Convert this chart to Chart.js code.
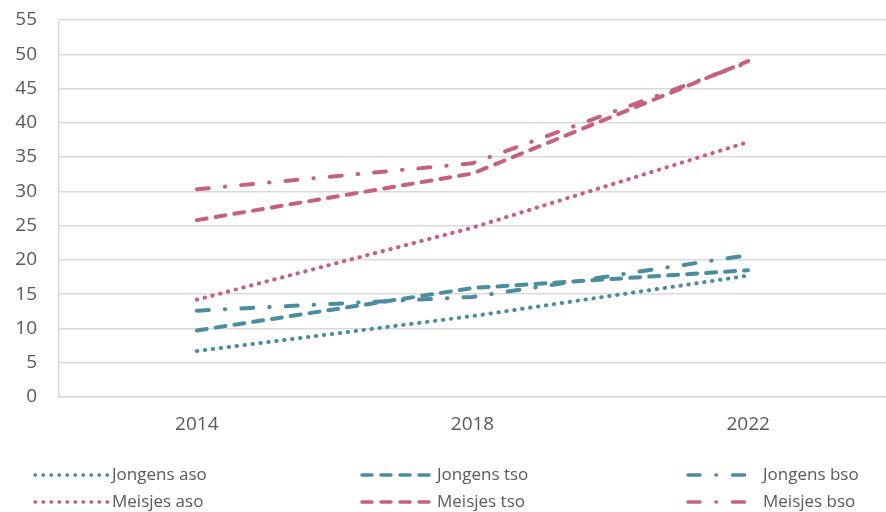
<!DOCTYPE html>
<html>
<head>
<meta charset="utf-8">
<script src="https://cdn.jsdelivr.net/npm/chart.js@4"></script>
<style>
    html, body { margin: 0; padding: 0; background: #fff; overflow: hidden; }
    #wrap { width: 886px; height: 512px; position: relative; }
</style>
</head>
<body>
<div id="wrap"><canvas id="chart" width="886" height="512"></canvas></div>
<script>
const years = ['2014', '2018', '2022'];
const jongensAso = [6.7, 11.8, 17.7];
const jongensTso = [9.7, 15.9, 18.5];
const jongensBso = [12.6, 14.6, 20.7];
const meisjesAso = [14.2, 24.7, 37.2];
const meisjesTso = [25.8, 32.6, 49.0];
const meisjesBso = [30.3, 34.1, 48.8];

const teal = '#4a8da1';
const pink = '#c7607a';
const dotted = [0.5, 7.5];
const dashed = [10, 9];
const dashDot = [12, 16, 0.5, 16];

function series(label, data, color, dash) {
    return {
        label: label,
        data: data,
        borderColor: color,
        backgroundColor: color,
        borderWidth: 4,
        borderDash: dash,
        borderCapStyle: 'round',
        pointRadius: 0,
        tension: 0,
        fill: false
    };
}

const datasets = [
    series('Jongens aso', jongensAso, teal, dotted),
    series('Jongens tso', jongensTso, teal, dashed),
    series('Jongens bso', jongensBso, teal, dashDot),
    series('Meisjes aso', meisjesAso, pink, dotted),
    series('Meisjes tso', meisjesTso, pink, dashed),
    series('Meisjes bso', meisjesBso, pink, dashDot)
];

// legend drawn by hand: 3 columns, 2 rows
const legendCols = [
    { x1: 35, x2: 110, tx: 112 },
    { x1: 362, x2: 435, tx: 437 },
    { x1: 688, x2: 745, tx: 763 }
];
const legendRows = [475, 502];

const legendPlugin = {
    id: 'gridLegend',
    afterDraw(chart) {
        const ctx = chart.ctx;
        chart.data.datasets.forEach((ds, i) => {
            const col = legendCols[i % 3];
            const y = legendRows[Math.floor(i / 3)];
            ctx.save();
            ctx.strokeStyle = ds.borderColor;
            ctx.lineWidth = 3.5;
            ctx.lineCap = 'round';
            ctx.setLineDash(ds.borderDash);
            ctx.beginPath();
            ctx.moveTo(col.x1, y);
            ctx.lineTo(col.x2, y);
            ctx.stroke();
            ctx.setLineDash([]);
            ctx.fillStyle = '#595959';
            ctx.font = '17px "Open Sans"';
            ctx.textBaseline = 'middle';
            ctx.fillText(ds.label, col.tx, y);
            ctx.restore();
        });
    }
};

new Chart(document.getElementById('chart'), {
    type: 'line',
    data: { labels: years, datasets: datasets },
    options: {
        responsive: false,
        animation: false,
        layout: { padding: 0 },
        plugins: {
            legend: { display: false },
            tooltip: { enabled: false }
        },
        scales: {
            x: {
                offset: true,
                grid: { display: false, drawTicks: false },
                border: { color: '#d9d9d9', width: 1.5 },
                ticks: { color: '#595959', font: { family: 'Open Sans', size: 19 }, padding: 16 },
                afterFit(scale) { scale.height = 115; }
            },
            y: {
                min: 0,
                max: 55,
                ticks: { stepSize: 5, color: '#595959', font: { family: 'Open Sans', size: 19 }, padding: 22 },
                grid: { color: '#d9d9d9', lineWidth: 1.5, drawTicks: false },
                border: { color: '#d9d9d9', width: 1.5 },
                afterFit(scale) {
                    scale.width = 59;
                    scale.paddingTop = 20;
                }
            }
        }
    },
    plugins: [legendPlugin]
});
</script>
</body>
</html>
